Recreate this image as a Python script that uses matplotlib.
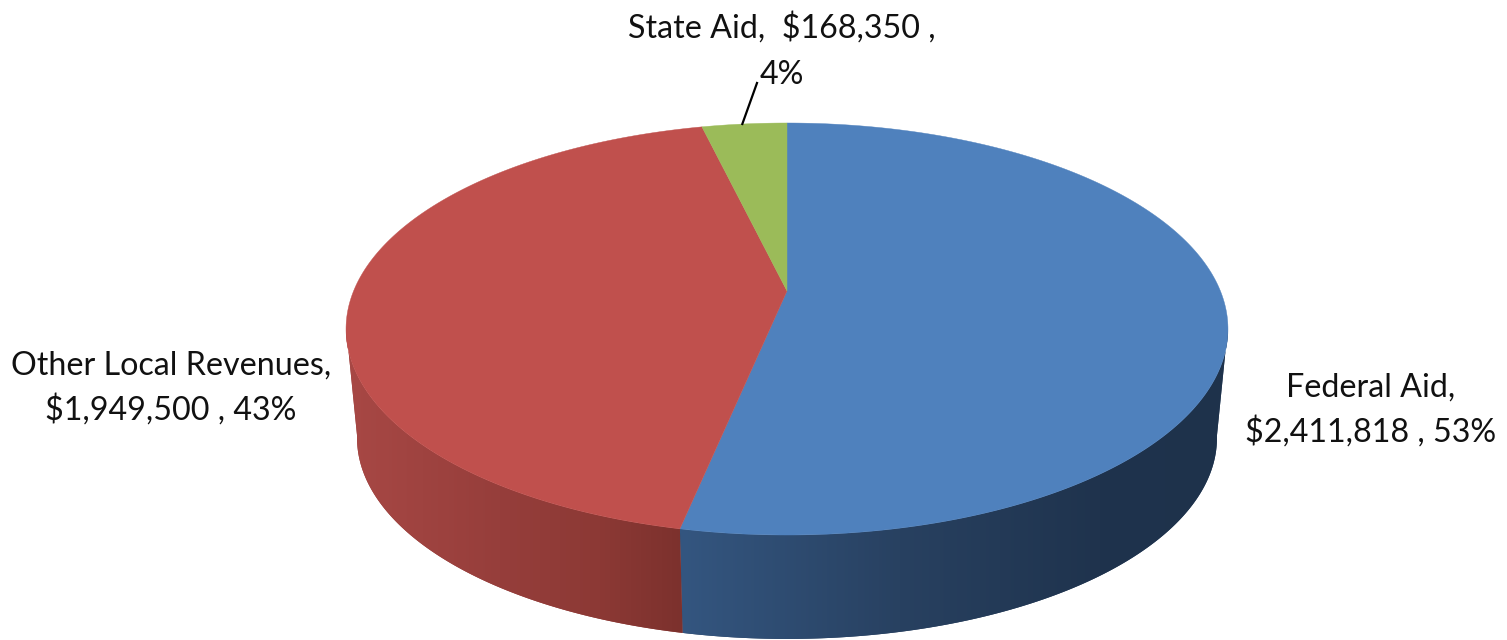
import numpy as np
import matplotlib
matplotlib.use('Agg')
import matplotlib.pyplot as plt
from matplotlib.patches import Polygon

plt.rcParams['font.family'] = ['Lato', 'DejaVu Sans']

categories = ['Federal Aid', 'Other Local Revenues', 'State Aid']
values = [2411818, 1949500, 168350]
percents = [53, 43, 4]
top_colors = ['#4F81BD', '#C0504D', '#9BBB59']

# side wall shading, dark/light stops along screen x
side_x = {'Federal Aid': [680, 900, 1100, 1230], 'Other Local Revenues': [345, 500, 600, 683], 'State Aid': [700, 790]}
side_rgb = {
    'Federal Aid': [(52, 86, 128), (40, 65, 97), (31, 51, 77), (30, 50, 75)],
    'Other Local Revenues': [(168, 72, 69), (150, 62, 59), (140, 57, 53), (124, 49, 45)],
    'State Aid': [(110, 135, 60), (110, 135, 60)],
}

# perspective of the pie disc in pixels
cx, cy = 787, 291
k = 0.1845
sx, sy = 433.4, 199.0


def project(theta, scale=1.0, dy=0.0):
    # theta clockwise from 12 o'clock
    X = np.sin(theta)
    Y = -np.cos(theta)
    w = 1 - k * Y
    return cx + scale * sx * X / w, cy + dy + scale * sy * Y / w


fig = plt.figure(figsize=(15.07, 6.4), dpi=100)
ax = fig.add_axes([0, 0, 1, 1])
ax.axis('off')

edges = np.cumsum([0] + values) / sum(values) * 2 * np.pi

# side walls first, only the part facing the viewer (100-260 deg is where the outline is tangent)
for i, name in enumerate(categories):
    t0 = max(edges[i], np.radians(100))
    t1 = min(edges[i + 1], np.radians(260))
    if t1 <= t0:
        continue
    th = np.linspace(t0, t1, 300)
    tx, ty = project(th)
    bx, by = project(th, 0.975, 110)
    outline = np.c_[np.r_[tx, bx[::-1]], np.r_[ty, by[::-1]]]
    xs = np.arange(side_x[name][0], side_x[name][-1] + 1)
    grad = np.stack([np.interp(xs, side_x[name], [c[n] for c in side_rgb[name]]) for n in range(3)], axis=-1) / 255
    patch = Polygon(outline, closed=True, facecolor=grad[len(grad) // 2], edgecolor='none', zorder=2)
    ax.add_patch(patch)
    im = ax.imshow(grad[np.newaxis, :, :], extent=(xs[0], xs[-1], 640, 0), aspect='auto', zorder=2.1)
    im.set_clip_path(patch)

ax.set_xlim(0, 1507)
ax.set_ylim(640, 0)

# top faces
for i, name in enumerate(categories):
    th = np.linspace(edges[i], edges[i + 1], 300)
    tx, ty = project(th)
    ax.fill(np.r_[cx, tx], np.r_[cy, ty], color=top_colors[i], linewidth=0.3, zorder=3)

# labels
fs = 23.2
ax.text(1371, 410, f'{categories[0]},\n${values[0]:,} , {percents[0]}%', ha='center', va='center',
        fontsize=fs, color='#111111', linespacing=1.5)
ax.text(171, 388, f'{categories[1]},\n${values[1]:,} , {percents[1]}%', ha='center', va='center',
        fontsize=fs, color='#111111', linespacing=1.5)
ax.text(782, 51, f'{categories[2]},  ${values[2]:,} ,\n{percents[2]}%', ha='center', va='center',
        fontsize=fs, color='#111111', linespacing=1.7)

# leader line for the small slice
mid = (edges[2] + edges[3]) / 2
lx, ly = project(mid)
ax.plot([lx - 2, 757], [ly, 83], color='black', linewidth=1.6, zorder=4)

fig.savefig('out.png', dpi=100)
